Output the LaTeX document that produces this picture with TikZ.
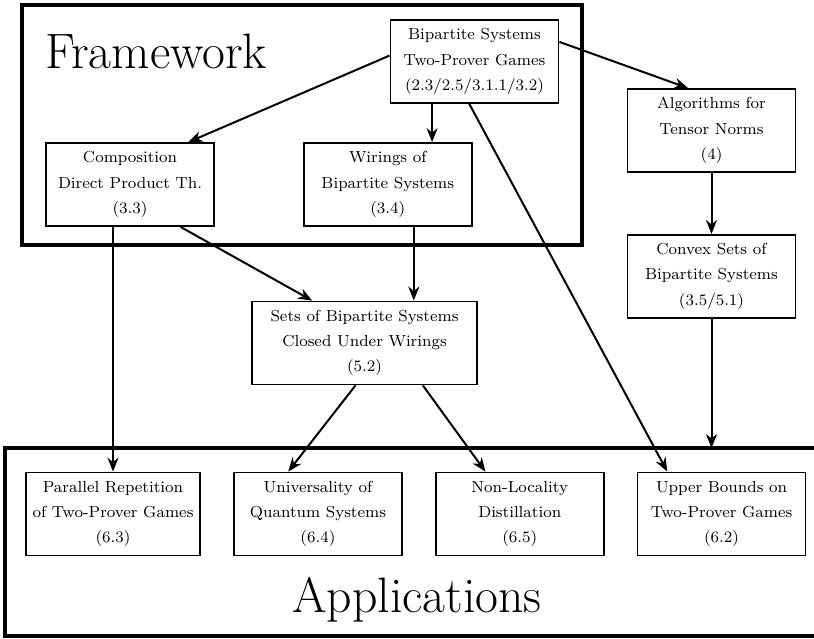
\documentclass[tikz,border=0pt]{standalone}
\usepackage{amsmath}
\usetikzlibrary{positioning, arrows.meta}

\begin{document}
\begin{tikzpicture}[x=0.5pt, y=-0.5pt, >={Stealth[length=7pt,width=5.5pt]},
		box/.style={draw, line width=0.9pt, minimum width=84pt, minimum height=41.5pt, align=center, font={\linespread{1.33}\footnotesize}},
		frame/.style={line width=2.2pt},
		flow/.style={->, line width=1pt}]
		\useasboundingbox (0,0) rectangle (814,638);
		\draw[frame] (22,5) rectangle (582,245);
		\draw[frame] (830,448) -- (5,448) -- (5,636) -- (830,636);
		\coordinate (apptop) at (0,448);
		
		\node[anchor=base west, font=\Huge] (fw) at (38,68) {Framework};
		\node[anchor=base, font=\Huge] (app) at (417,612) {Applications};
		
		\node[box] (bps) at (474.5,61.5) {Bipartite Systems\\Two-Prover Games\\(2.3/2.5/3.1.1/3.2)};
		\node[box] (comp) at (130,184.5) {Composition\\Direct Product Th.\\(3.3)};
		\node[box, right=44pt of comp] (wir) {Wirings of\\Bipartite Systems\\(3.4)};
		\node[box] (alg) at (711.5,130.5) {Algorithms for\\Tensor Norms\\(4)};
		\node[box, below=30.5pt of alg] (conv) {Convex Sets of\\Bipartite Systems\\(3.5/5.1)};
		\node[box, minimum width=112.5pt] (sets) at (364.5,343) {Sets of Bipartite Systems\\Closed Under Wirings\\(5.2)};
		
		\node[box] (par) at (113,514) {Parallel Repetition\\of Two-Prover Games\\(6.3)};
		\node[box, right=16pt of par] (univ) {Universality of\\Quantum Systems\\(6.4)};
		\node[box, right=16pt of univ] (nonloc) {Non-Locality\\Distillation\\(6.5)};
		\node[box, right=16pt of nonloc] (upper) {Upper Bounds on\\Two-Prover Games\\(6.2)};
		
		\draw[flow] (bps.176) -- (comp.36);
		\draw[flow] (bps.225) -- (bps.225 |- wir.north);
		\draw[flow] (bps.263) -- (upper.142);
		\draw[flow] (bps.13) -- (alg.119.5);
		\draw[flow] (alg) -- (conv);
		\draw[flow] (conv) -- (conv.south |- apptop);
		\draw[flow] (par.north |- comp.south) -- (par);
		\draw[flow] (comp.320) -- (sets.141);
		\draw[flow] ([xshift=13pt]wir.south) -- ([xshift=13pt]wir.south |- sets.north);
		\draw[flow] (sets.258) -- (univ.125);
		\draw[flow] (sets.324) -- (nonloc.129);
	\end{tikzpicture}
\end{document}
